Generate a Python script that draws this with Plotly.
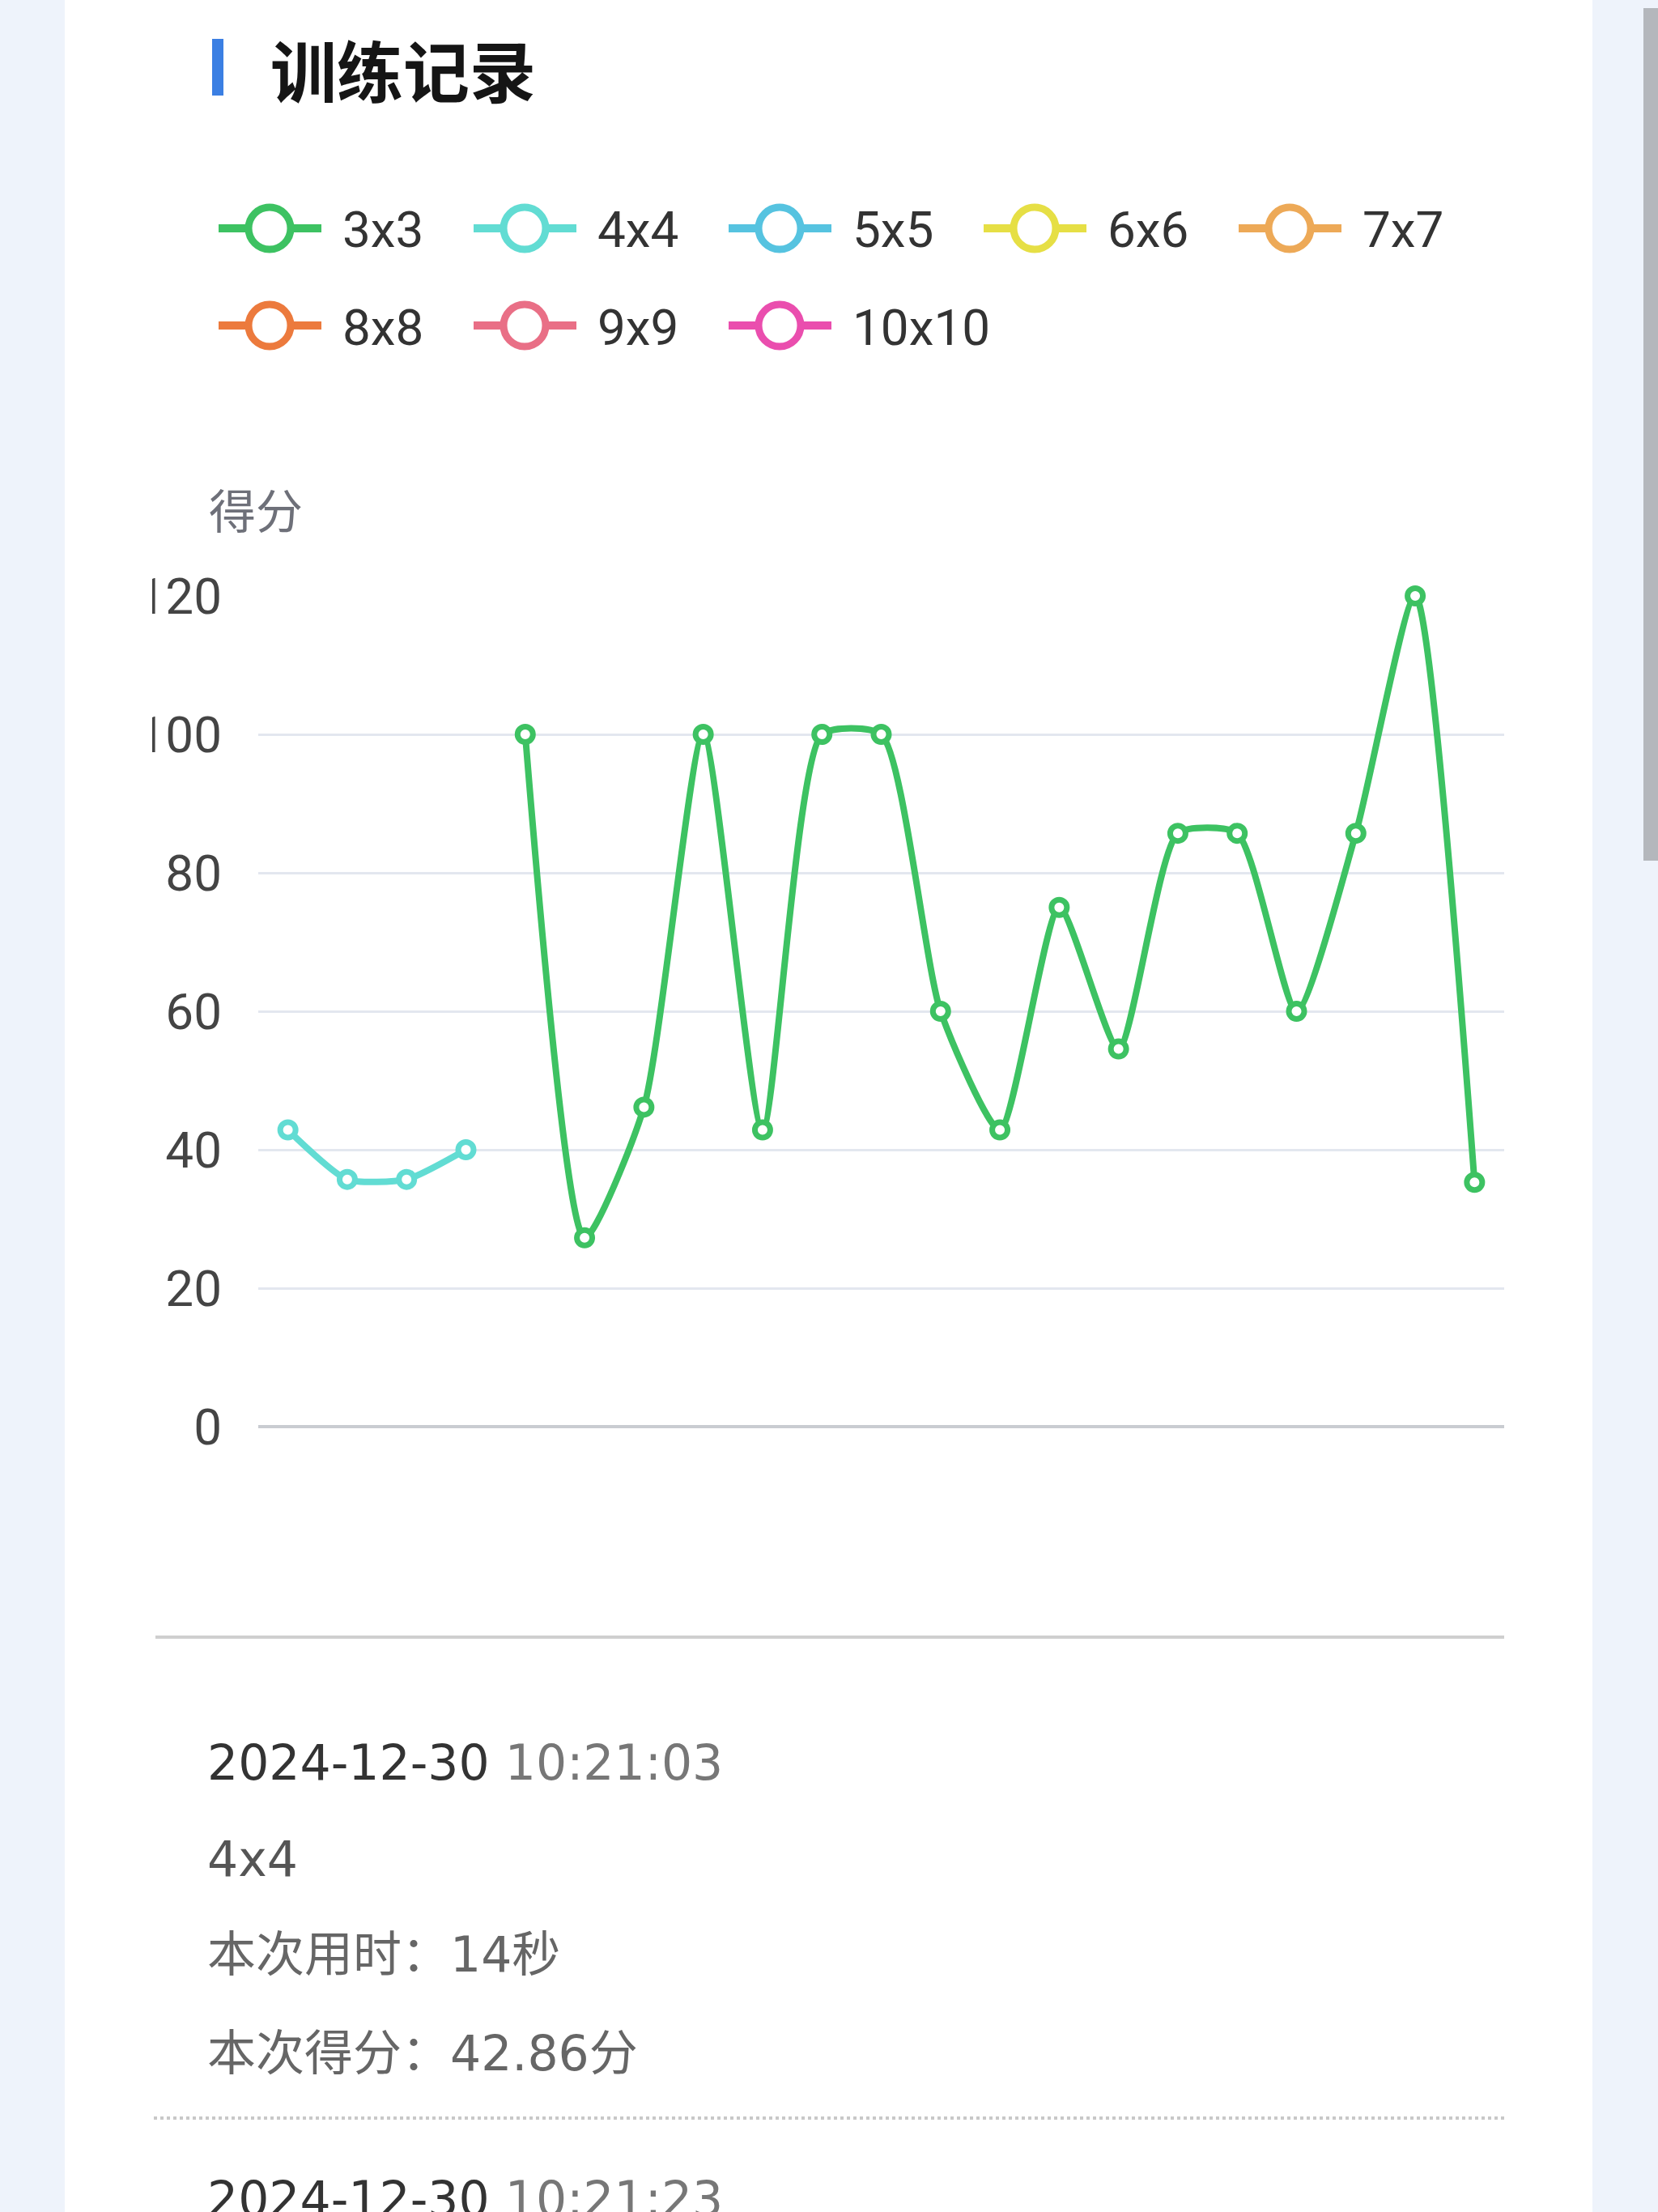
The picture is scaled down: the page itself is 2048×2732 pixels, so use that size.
import plotly.graph_objects as go

W, H = 2048, 2732

# ---------------- data ----------------
records = ["1", "2", "3", "4", "5", "6", "7", "8", "9", "10", "11",
           "12", "13", "14", "15", "16", "17", "18", "19", "20", "21"]

series_names = ["3x3", "4x4", "5x5", "6x6", "7x7", "8x8", "9x9", "10x10"]
series_colors = ["#3DC262", "#62DCD3", "#56C3E0", "#E6DF45",
                 "#EDA957", "#EC7A3D", "#E96F86", "#EA4EAE"]

score_3x3 = [None, None, None, None, 100, 27.27, 46.15, 100, 42.86, 100, 100,
             60, 42.86, 75, 54.55, 85.71, 85.71, 60, 85.71, 120, 35.29]
score_4x4 = [42.86, 35.71, 35.71, 40.0, None, None, None, None, None, None, None,
             None, None, None, None, None, None, None, None, None, None]
score_5x5 = []
score_6x6 = []
score_7x7 = []
score_8x8 = []
score_9x9 = []
score_10x10 = []
series_values = [score_3x3, score_4x4, score_5x5, score_6x6,
                 score_7x7, score_8x8, score_9x9, score_10x10]

y_tickvals = [0, 20, 40, 60, 80, 100, 120]
y_ticktext = ["0", "20", "40", "60", "80", "100", "120"]

title_text = "训练记录"
y_name = "得分"
detail_date = "2024-12-30"
detail_time = "10:21:03"
detail_mode = "4x4"
detail_used = "本次用时：14秒"
detail_score = "本次得分：42.86分"
next_date = "2024-12-30"
next_time = "10:21:23"


# ---------------- helpers ----------------
def X(px):
    return px / W


def Y(py):
    return 1 - py / H


PAGE_BG = "#EEF3FB"
CJK = "Noto Sans CJK SC"
LATIN = "Roboto, Noto Sans CJK SC"
BODY = "DejaVu Sans, Noto Sans CJK SC"

fig = go.Figure()

for name, color, vals in zip(series_names, series_colors, series_values):
    fig.add_trace(go.Scatter(
        x=records[:len(vals)], y=vals, name=name,
        mode="lines+markers",
        line=dict(color=color, width=8, shape="spline", smoothing=0.6),
        marker=dict(symbol="circle", size=19, color="white",
                    line=dict(color=color, width=7)),
        connectgaps=False, cliponaxis=False, showlegend=False,
    ))

shapes = []
annotations = []

# card and page decorations
shapes.append(dict(type="rect", xref="paper", yref="paper", layer="below",
                   x0=X(80), x1=X(1967), y0=Y(H + 20), y1=Y(-20),
                   fillcolor="white", line=dict(width=0)))
shapes.append(dict(type="rect", xref="paper", yref="paper",
                   x0=X(2030), x1=X(2048), y0=Y(1063), y1=Y(10),
                   fillcolor="#B4B7BC", line=dict(width=0)))
# title accent bar
shapes.append(dict(type="rect", xref="paper", yref="paper",
                   x0=X(262), x1=X(276), y0=Y(118), y1=Y(48),
                   fillcolor="#3B7FE3", line=dict(width=0)))
annotations.append(dict(text="<b>" + title_text + "</b>", xref="paper", yref="paper",
                        x=X(332), y=Y(84), xanchor="left", yanchor="middle",
                        showarrow=False, font=dict(family=CJK, size=82, color="#151515")))

# custom legend
for i, (name, color) in enumerate(zip(series_names, series_colors)):
    col, row = i % 5, i // 5
    x0 = 270 + col * 315
    yc = 282 + row * 120
    shapes.append(dict(type="line", xref="paper", yref="paper",
                       x0=X(x0), x1=X(x0 + 127), y0=Y(yc), y1=Y(yc),
                       line=dict(color=color, width=10)))
    cx = x0 + 63
    shapes.append(dict(type="circle", xref="paper", yref="paper",
                       x0=X(cx - 26), x1=X(cx + 26), y0=Y(yc + 26), y1=Y(yc - 26),
                       fillcolor="white", line=dict(color=color, width=9)))
    annotations.append(dict(text=name, xref="paper", yref="paper",
                            x=X(x0 + 151), y=Y(yc + 2), xanchor="left", yanchor="middle",
                            showarrow=False, font=dict(family=LATIN, size=62, color="#333333")))

# y axis name
annotations.append(dict(text=y_name, xref="paper", yref="paper",
                        x=X(256), y=Y(628), xanchor="left", yanchor="middle",
                        showarrow=False, font=dict(family=CJK, size=58, color="#6E7079")))

# clip of left-most tick label characters (container edge)
shapes.append(dict(type="rect", xref="paper", yref="paper", layer="above",
                   x0=X(80), x1=X(188), y0=Y(1800), y1=Y(690),
                   fillcolor="white", line=dict(width=0)))

# divider below chart
shapes.append(dict(type="line", xref="paper", yref="paper",
                   x0=X(192), x1=X(1858), y0=Y(2022), y1=Y(2022),
                   line=dict(color="#CFCFCF", width=4)))
# dotted divider
shapes.append(dict(type="line", xref="paper", yref="paper",
                   x0=X(190), x1=X(1858), y0=Y(2616), y1=Y(2616),
                   line=dict(color="#C8C8C8", width=4, dash="dot")))

# record details
detail_lines = [
    ("<span style='color:#333333'>" + detail_date + "</span> "
     "<span style='color:#777777'>" + detail_time + "</span>", 2177),
    ("<span style='color:#555555'>" + detail_mode + "</span>", 2296),
    ("<span style='color:#666666'>" + detail_used + "</span>", 2414),
    ("<span style='color:#666666'>" + detail_score + "</span>", 2536),
    ("<span style='color:#333333'>" + next_date + "</span> "
     "<span style='color:#777777'>" + next_time + "</span>", 2716),
]
for txt, yy in detail_lines:
    annotations.append(dict(text=txt, xref="paper", yref="paper",
                            x=X(254), y=Y(yy), xanchor="left", yanchor="middle",
                            showarrow=False, font=dict(family=BODY, size=60, color="#333333")))

fig.update_layout(
    width=W, height=H, autosize=False,
    margin=dict(l=0, r=0, t=0, b=0, pad=0, autoexpand=False),
    paper_bgcolor=PAGE_BG, plot_bgcolor="white",
    showlegend=False,
    xaxis=dict(domain=[X(319), X(1858)], type="category",
               categoryorder="array", categoryarray=records,
               range=[-0.5, 20.5], showgrid=False, zeroline=False,
               showline=False, showticklabels=False, ticks="", automargin=False),
    yaxis=dict(domain=[Y(1762), Y(736)], range=[0, 120],
               tickvals=y_tickvals, ticktext=y_ticktext,
               showgrid=True, gridcolor="#E3E7EF", gridwidth=3,
               zeroline=True, zerolinecolor="#C9CCD1", zerolinewidth=4,
               showline=False, ticks="", ticklabelstandoff=44, automargin=False,
               tickfont=dict(family=LATIN, size=62, color="#444444")),
    shapes=shapes,
    annotations=annotations,
)

fig.write_html("out.html", config={"displayModeBar": False},
               post_script="document.body.style.margin='0px';document.body.style.overflow='hidden';")
